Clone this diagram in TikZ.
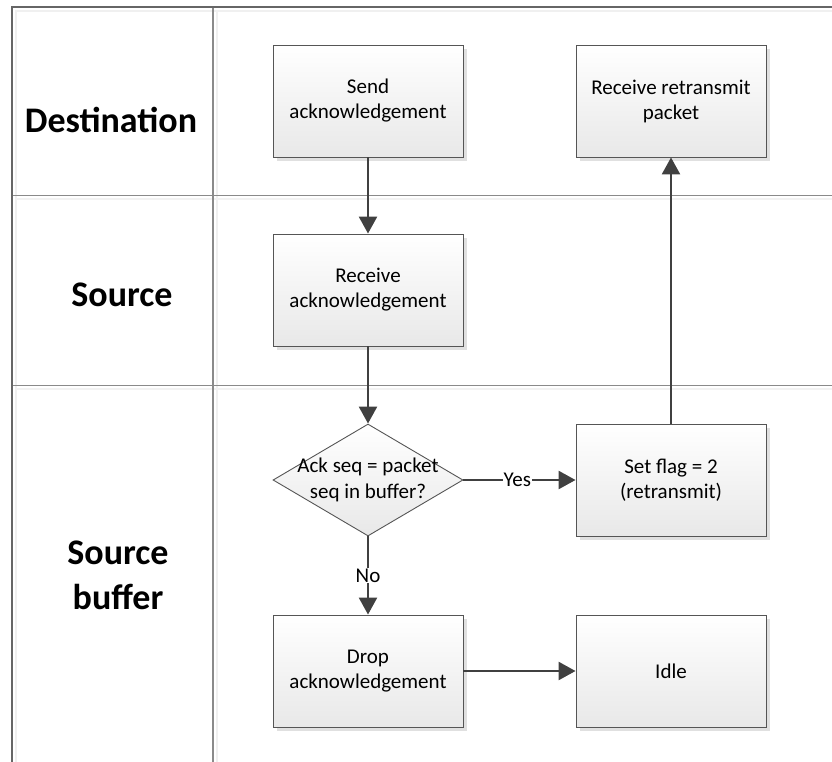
\documentclass[tikz,border=0pt]{standalone}
\usepackage{fontspec}
\setmainfont{Carlito}
\usetikzlibrary{shapes.geometric,shadows,arrows.meta}
\definecolor{lane}{HTML}{8A8A8A}
\definecolor{edge}{HTML}{404040}
\definecolor{boxline}{HTML}{555555}
\tikzset{
  procbox/.style={draw=boxline, line width=0.9pt, top color=white, bottom color=black!9,
    minimum width=190pt, minimum height=112pt, align=center,
    font=\fontsize{21}{25}\selectfont,
    drop shadow={shadow xshift=4pt, shadow yshift=-4pt, fill=black!12, opacity=1}},
  decbox/.style={diamond, draw=boxline, line width=0.9pt, top color=white, bottom color=black!9,
    minimum width=190pt, minimum height=112pt, inner sep=0pt},
  flow/.style={draw=edge, line width=2.5pt, -{Triangle[length=17pt,width=18pt]}},
  lanetitle/.style={font=\fontsize{36}{45}\selectfont\bfseries, align=center},
  tag/.style={fill=white, inner sep=1pt, font=\fontsize{21}{25}\selectfont}
}
\begin{document}
\begin{tikzpicture}[x=1pt,y=-1pt]
\useasboundingbox (0,0) rectangle (832,762);
% swimlane frame with its faint inner edge
\draw[black!6, line width=1.5pt] (16,762) -- (16,11) -- (832,11);
\draw[black!6, line width=1.5pt] (217,11) -- (217,762);
\draw[black!5, line width=1.5pt] (16,199) -- (832,199);
\draw[black!5, line width=1.5pt] (16,389) -- (832,389);
\draw[lane, line width=1.8pt] (213,7) -- (213,762);
\draw[lane, line width=1.8pt] (12,195.5) -- (832,195.5);
\draw[lane, line width=1.8pt] (12,385.5) -- (832,385.5);
\draw[black!60, line width=1.5pt] (12,762) -- (12,7) -- (832,7);
% lane titles
\node[lanetitle] (tdest) at (111,120) {Destination};
\node[lanetitle] (tsrc) at (122,295) {Source};
\node[lanetitle] (tbuf) at (118,575) {Source\\buffer};
% steps
\node[procbox] (send) at (368,101) {Send\\acknowledgement};
\node[procbox] (rretx) at (671,101) {Receive retransmit\\packet};
\node[procbox] (recv) at (368,290) {Receive\\acknowledgement};
\node[decbox, label={[font=\fontsize{21}{26}\selectfont, align=center]center:Ack seq = packet\\seq in buffer?}] (chk) at (368,480) {};
\node[procbox] (flag) at (671,480) {Set flag = 2\\(retransmit)};
\node[procbox] (drop) at (368,671) {Drop\\acknowledgement};
\node[procbox] (idle) at (671,671) {Idle};
% connectors
\draw[flow] (send) -- (recv);
\draw[flow] (recv) -- (chk);
\draw[flow] (chk.east) -- node[tag, pos=0.48] (yes) {Yes} (flag.west);
\draw[flow] (flag) -- (rretx);
\draw[flow] (chk.south) -- node[tag, pos=0.5] (no) {No} (drop.north);
\draw[flow] (drop.east) -- (idle.west);
\end{tikzpicture}
\end{document}
